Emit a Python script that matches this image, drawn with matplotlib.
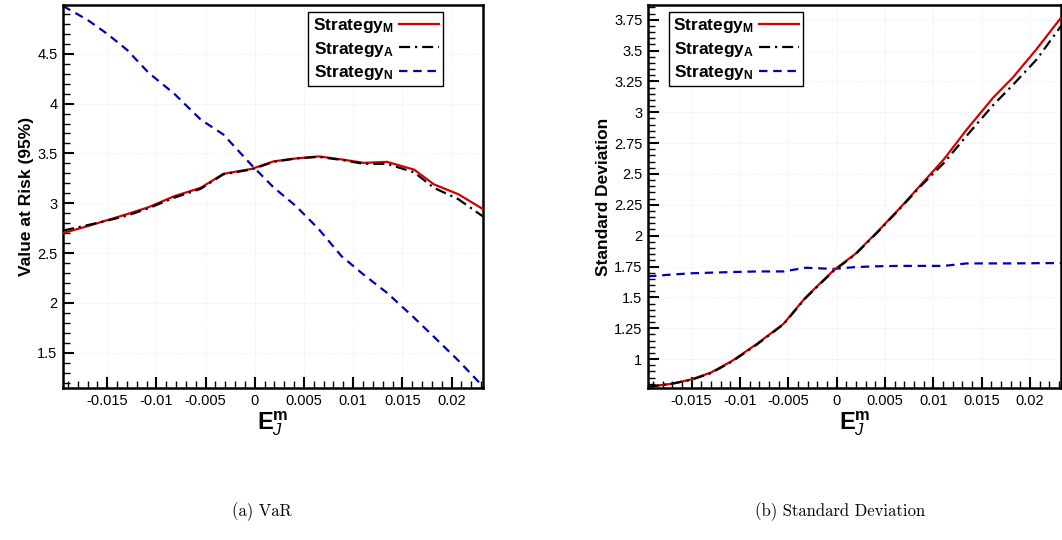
import matplotlib
matplotlib.use("Agg")
import matplotlib.pyplot as plt
from matplotlib.ticker import MultipleLocator, FuncFormatter

plt.rcParams['font.family'] = ['Liberation Sans', 'DejaVu Sans']
plt.rcParams['mathtext.fontset'] = 'custom'
plt.rcParams['mathtext.rm'] = 'Liberation Sans'
plt.rcParams['mathtext.bf'] = 'Liberation Sans:bold'
plt.rcParams['mathtext.it'] = 'Liberation Sans:italic'
plt.rcParams['axes.unicode_minus'] = False

# ---- data ----
x_em = [-0.0195, -0.0170, -0.0150, -0.0130, -0.0108, -0.0082, -0.0055, -0.0032,
        -0.0003, 0.0019, 0.0042, 0.0065, 0.0088, 0.0111, 0.01345, 0.0162,
        0.0182, 0.0207, 0.0233]

var_m = [2.70, 2.77, 2.83, 2.89, 2.96, 3.07, 3.155, 3.295, 3.345, 3.42, 3.45,
         3.47, 3.44, 3.405, 3.415, 3.337, 3.19, 3.09, 2.935]
var_a = [2.725, 2.78, 2.825, 2.875, 2.95, 3.055, 3.145, 3.29, 3.34, 3.415, 3.45,
         3.465, 3.435, 3.395, 3.395, 3.31, 3.155, 3.04, 2.86]
var_n = [4.98, 4.84, 4.70, 4.54, 4.31, 4.10, 3.84, 3.69, 3.38, 3.16, 2.97,
         2.74, 2.47, 2.28, 2.10, 1.85, 1.66, 1.42, 1.15]

sd_m = [0.775, 0.80, 0.835, 0.89, 0.985, 1.125, 1.285, 1.50, 1.72, 1.85, 2.03,
        2.22, 2.42, 2.62, 2.86, 3.12, 3.28, 3.515, 3.777]
sd_a = [0.775, 0.80, 0.832, 0.885, 0.98, 1.12, 1.28, 1.495, 1.715, 1.845, 2.025,
        2.215, 2.41, 2.59, 2.81, 3.06, 3.22, 3.43, 3.71]
sd_n = [1.67, 1.685, 1.695, 1.70, 1.705, 1.71, 1.71, 1.74, 1.73, 1.745, 1.752,
        1.755, 1.755, 1.755, 1.775, 1.775, 1.775, 1.777, 1.778]

labels = [r'Strategy$_{\mathbf{M}}$', r'Strategy$_{\mathbf{A}}$', r'Strategy$_{\mathbf{N}}$']
ylabels = ['Value at Risk (95%)', 'Standard Deviation']
captions = ['(a) VaR', '(b) Standard Deviation']

W, H = 1062, 540
fig = plt.figure(figsize=(W / 100, H / 100), dpi=100)

def frac(x0, y0, x1, y1):
    return [x0 / W, 1 - y1 / H, (x1 - x0) / W, (y1 - y0) / H]

ax1 = fig.add_axes(frac(63, 5, 483, 388))
ax2 = fig.add_axes(frac(648, 5, 1061, 388))

fmt = FuncFormatter(lambda v, p: ('%g' % round(v, 6)))

def style(ax, series, ylim, ymaj, ymin, ylabel, legloc, anchor):
    m, a, n = series
    ax.plot(x_em, m, color='#d40000', lw=1.6, ls='-', label=labels[0], zorder=3)
    ax.plot(x_em, a, color='black', lw=1.6, label=labels[1], zorder=4,
            dashes=(5, 2.2, 1, 2.2))
    ax.plot(x_em, n, color='#0000b4', lw=1.6, label=labels[2], zorder=2,
            dashes=(3.8, 2.6))
    ax.set_xlim(-0.0195, 0.0232)
    ax.set_ylim(*ylim)
    ax.xaxis.set_major_locator(MultipleLocator(0.005))
    ax.xaxis.set_minor_locator(MultipleLocator(0.001))
    ax.yaxis.set_major_locator(MultipleLocator(ymaj))
    ax.yaxis.set_minor_locator(MultipleLocator(ymin))
    ax.xaxis.set_major_formatter(fmt)
    ax.yaxis.set_major_formatter(fmt)
    ax.tick_params(which='both', direction='in', top=False, right=False,
                   labelsize=10.5, width=1.2)
    ax.tick_params(which='major', length=8, width=1.5, pad=4)
    ax.tick_params(which='minor', length=5, width=1.0)
    for s in ax.spines.values():
        s.set_linewidth(1.8)
    ax.grid(True, which='major', color='#e6e6e6', ls=':', lw=0.6)
    ax.set_ylabel(ylabel, fontsize=12.5, fontweight='bold', labelpad=2)
    ax.set_xlabel(r'$\mathbf{E}_{J}^{\mathbf{m}}$', fontsize=17, labelpad=1)
    leg = ax.legend(loc=legloc, bbox_to_anchor=anchor, markerfirst=False,
                    prop={'weight': 'bold', 'size': 12.5},
                    handlelength=2.3, handletextpad=0.3, labelspacing=0.25,
                    borderpad=0.25, borderaxespad=0.0, fancybox=False,
                    framealpha=1, edgecolor='black')
    leg.get_frame().set_linewidth(1.0)

style(ax1, (var_m, var_a, var_n), (1.145, 4.99), 0.5, 0.1, ylabels[0],
      'upper right', (0.905, 0.982))
style(ax2, (sd_m, sd_a, sd_n), (0.765, 3.87), 0.25, 0.05, ylabels[1],
      'upper left', (0.05, 0.982))

fig.text(262 / W, 1 - 512 / H, captions[0], ha='center', va='center',
         fontsize=12, family='cmr10')
fig.text(840 / W, 1 - 512 / H, captions[1], ha='center', va='center',
         fontsize=12, family='cmr10')

fig.savefig('out.png', dpi=100)
